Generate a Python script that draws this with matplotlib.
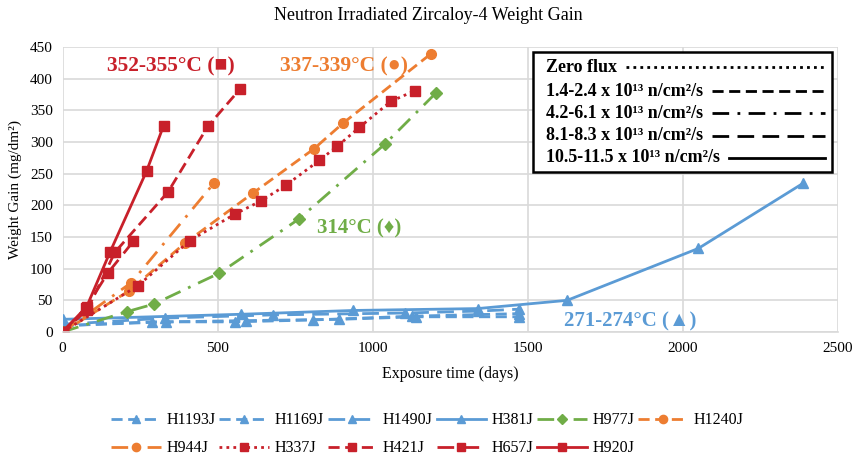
import numpy as np
import matplotlib
matplotlib.use("Agg")
import matplotlib.pyplot as plt
from matplotlib.lines import Line2D
from matplotlib.patches import Rectangle

plt.rcParams['font.family'] = ['Liberation Serif', 'DejaVu Serif']

# colours per temperature group
blue = '#5B9BD5'
green = '#70AD47'
orange = '#ED7D31'
red = '#C8202A'

# flux line styles
dotted = (0, (1, 1.5))
dense_dash = (0, (4, 2))
dash_dot = (0, (6, 3, 1, 3))
long_dash = (0, (6, 3))
solid = '-'

# days / weight gain
h1193j_x = [0, 287, 555, 806, 1128, 1471]
h1193j_y = [10, 16, 16, 19, 25, 29]
h1169j_x = [0, 335, 592, 892, 1140, 1471]
h1169j_y = [10, 16, 18, 20, 24, 24]
h1490j_x = [0, 330, 678, 1104, 1339, 1471]
h1490j_y = [12, 22, 27, 30, 33, 36]
h381j_x = [0, 576, 937, 1339, 1627, 2050, 2388]
h381j_y = [20, 28, 34, 37, 50, 132, 235]
h977j_x = [0, 207, 294, 506, 761, 1040, 1203]
h977j_y = [0, 32, 44, 93, 178, 297, 377]
h1240j_x = [0, 215, 394, 613, 810, 905, 1187]
h1240j_y = [0, 65, 140, 219, 289, 330, 439]
h944j_x = [0, 222, 490]
h944j_y = [0, 78, 236]
h337j_x = [0, 243, 410, 555, 640, 721, 828, 885, 957, 1058, 1136]
h337j_y = [0, 73, 144, 186, 207, 232, 271, 293, 323, 364, 381]
h421j_x = [0, 80, 169, 340, 469, 573]
h421j_y = [0, 35, 126, 221, 325, 384]
h657j_x = [0, 75, 146, 228]
h657j_y = [0, 38, 93, 143]
h920j_x = [0, 78, 153, 271, 326]
h920j_y = [0, 40, 126, 254, 326]

series = [
    ('H1193J', h1193j_x, h1193j_y, blue, dense_dash, '^'),
    ('H1169J', h1169j_x, h1169j_y, blue, dense_dash, '^'),
    ('H1490J', h1490j_x, h1490j_y, blue, long_dash, '^'),
    ('H381J', h381j_x, h381j_y, blue, solid, '^'),
    ('H977J', h977j_x, h977j_y, green, dash_dot, 'D'),
    ('H1240J', h1240j_x, h1240j_y, orange, dense_dash, 'o'),
    ('H944J', h944j_x, h944j_y, orange, dash_dot, 'o'),
    ('H337J', h337j_x, h337j_y, red, dotted, 's'),
    ('H421J', h421j_x, h421j_y, red, dense_dash, 's'),
    ('H657J', h657j_x, h657j_y, red, long_dash, 's'),
    ('H920J', h920j_x, h920j_y, red, solid, 's'),
]

flux_labels = ['Zero flux',
               '1.4-2.4 x 10\u00b9\u00b3 n/cm\u00b2/s',
               '4.2-6.1 x 10\u00b9\u00b3 n/cm\u00b2/s',
               '8.1-8.3 x 10\u00b9\u00b3 n/cm\u00b2/s',
               '10.5-11.5 x 10\u00b9\u00b3 n/cm\u00b2/s']
flux_styles = [dotted, dense_dash, dash_dot, long_dash, solid]

W, H = 857, 457
fig = plt.figure(figsize=(W / 100, H / 100), dpi=100)
ax = fig.add_axes([62.5 / W, 1 - 332 / H, 775.5 / W, 285 / H])

for name, x, y, c, ls, m in series:
    ms = 6 if m == 'D' else 7
    ax.plot(x, y, color=c, linestyle=ls, linewidth=2, marker=m, markersize=ms,
            label=name)

ax.set_xlim(0, 2500)
ax.set_ylim(0, 450)
ax.set_xticks(np.arange(0, 2501, 500))
ax.set_yticks(np.arange(0, 451, 50))
ax.grid(True, color='#D9D9D9', linewidth=1.2)
ax.set_axisbelow(True)
for s in ['top', 'right', 'left']:
    ax.spines[s].set_visible(False)
ax.spines['bottom'].set_color('#D9D9D9')
ax.spines['bottom'].set_linewidth(1.2)
ax.tick_params(length=0, labelsize=11, pad=7)

fig.text(0.5, 1 - 16 / H, 'Neutron Irradiated Zircaloy-4 Weight Gain',
         fontsize=13, ha='center', va='center')
ax.set_xlabel('Exposure time (days)', fontsize=11.5, labelpad=8)
ax.set_ylabel('Weight Gain (mg/dm\u00b2)', fontsize=11, labelpad=6)

ax.text(143, 420, '352-355\u00b0C (\u25a0)', color=red, fontsize=15.5,
        fontweight='bold', va='center')
ax.text(700, 420, '337-339\u00b0C (\u25cf)', color=orange, fontsize=15.5,
        fontweight='bold', va='center')
ax.text(822, 163, '314\u00b0C (\u2666)', color=green, fontsize=15,
        fontweight='bold', va='center')
ax.text(1616, 16, '271-274\u00b0C (\u25b2)', color=blue, fontsize=15,
        fontweight='bold', va='center')

# flux legend box, drawn by hand so each line starts right after its text
fig.patches.append(Rectangle((533 / W, 1 - 172 / H), 299 / W, 120 / H,
                             transform=fig.transFigure, facecolor='white',
                             edgecolor='black', linewidth=1.8, zorder=5))
row_y = [67, 91, 113, 136, 158]
renderer = fig.canvas.get_renderer()
for lab, ls, yy in zip(flux_labels, flux_styles, row_y):
    t = fig.text(546 / W, 1 - yy / H, lab, fontsize=13, fontweight='bold',
                 va='center', ha='left', zorder=6)
    x_end = t.get_window_extent(renderer).x1
    fig.add_artist(Line2D([(x_end + 9) / W, 825 / W], [1 - yy / H, 1 - yy / H],
                          transform=fig.transFigure, color='black',
                          linestyle=ls, linewidth=2, zorder=6))

# bottom legend, filled row by row
handles, labels = ax.get_legend_handles_labels()
order = [0, 6, 1, 7, 2, 8, 3, 9, 4, 10, 5]
fig.legend([handles[i] for i in order], [labels[i] for i in order],
           loc='upper left', bbox_to_anchor=(0.113, 1 - 398 / H),
           ncol=6, frameon=False, fontsize=11.5, handlelength=3.1,
           columnspacing=0.25, handletextpad=0.35, labelspacing=0.75,
           markerscale=0.85)

fig.savefig('out.png', dpi=100)
